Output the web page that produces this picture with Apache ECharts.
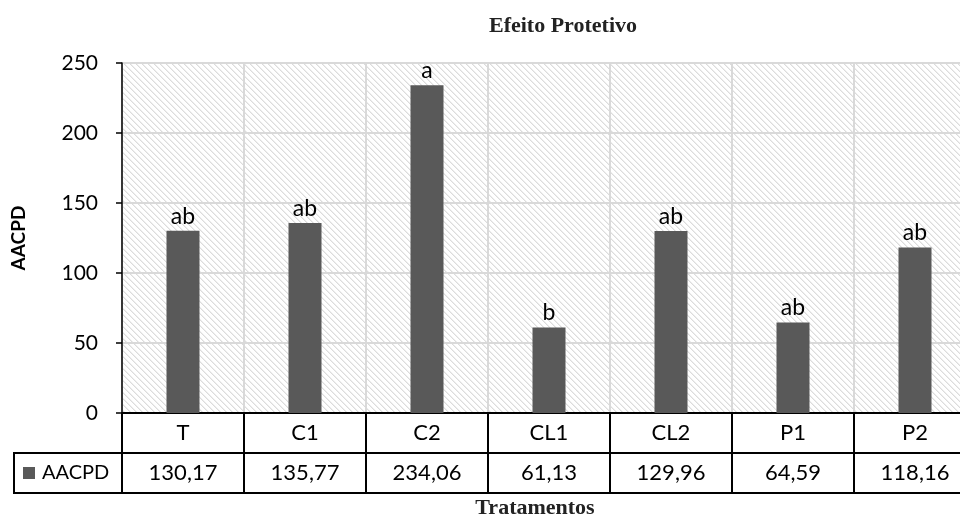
<!DOCTYPE html>
<html>
<head>
<meta charset="utf-8">
<script src="https://cdn.jsdelivr.net/npm/echarts@6/dist/echarts.min.js"></script>
<style>
html,body{margin:0;padding:0;background:#fff;overflow:hidden;width:960px;height:519px;}
#chart{width:976px;height:519px;}
</style>
</head>
<body>
<div id="chart"></div>
<script>
const categories = ['T', 'C1', 'C2', 'CL1', 'CL2', 'P1', 'P2'];
const values = [130.17, 135.77, 234.06, 61.13, 129.96, 64.59, 118.16];
const letters = ['ab', 'ab', 'a', 'b', 'ab', 'ab', 'ab'];
const yMin = 0, yMax = 250, yStep = 50;
const seriesName = 'AACPD';
const titleText = 'Efeito Protetivo';
const xTitle = 'Tratamentos';

const SANS = 'Lato, "DejaVu Sans", sans-serif';
const SERIF = '"Liberation Serif", "DejaVu Serif", serif';

// hatch pattern
const tile = document.createElement('canvas');
const T = 6;
tile.width = T; tile.height = T;
const tctx = tile.getContext('2d');
const img = tctx.createImageData(T, T);
for (let y = 0; y < T; y++) {
  for (let x = 0; x < T; x++) {
    const d = ((x - y) % T + T) % T;
    let c = 255;
    if (d === 0) c = 220; else if (d === 1) c = 238;
    const i = (y * T + x) * 4;
    img.data[i] = c; img.data[i+1] = c; img.data[i+2] = c; img.data[i+3] = 255;
  }
}
tctx.putImageData(img, 0, 0);

const G = {left: 122, top: 63, width: 854, height: 350};
const rowH = 40;

const chart = echarts.init(document.getElementById('chart'), null, {renderer: 'canvas', width: 976, height: 519});
const fmt = v => v.toFixed(2).replace('.', ',');

chart.setOption({
  animation: false,
  backgroundColor: '#fff',
  title: {
    text: titleText, left: 558, top: 10, textAlign: 'center',
    textStyle: {fontFamily: SERIF, fontWeight: 'bold', fontSize: 22, color: '#222'}
  },
  grid: {
    left: G.left, top: G.top, width: G.width, height: G.height,
    show: true, borderWidth: 0,
    backgroundColor: {image: tile, repeat: 'repeat'}
  },
  xAxis: [{
    type: 'category', data: categories, position: 'bottom',
    axisLine: {show: true, lineStyle: {color: '#000', width: 2}},
    axisTick: {show: true, inside: false, length: rowH * 2, lineStyle: {color: '#000', width: 2}},
    axisLabel: {margin: rowH / 2, verticalAlign: 'middle', fontFamily: SANS, fontSize: 22, color: '#000'},
    splitLine: {show: true, lineStyle: {color: '#d9d9d9', width: 2}}
  }, {
    type: 'category', data: values.map(fmt), position: 'bottom', offset: rowH,
    axisLine: {show: true, lineStyle: {color: '#000', width: 2}},
    axisTick: {show: false},
    axisLabel: {margin: rowH / 2, verticalAlign: 'middle', fontFamily: SANS, fontSize: 22, color: '#000'},
    splitLine: {show: false}
  }, {
    type: 'category', data: categories, position: 'bottom', offset: rowH * 2,
    axisLine: {show: true, lineStyle: {color: '#000', width: 2}},
    axisTick: {show: false}, axisLabel: {show: false}, splitLine: {show: false}
  }],
  yAxis: {
    type: 'value', min: yMin, max: yMax, interval: yStep,
    name: 'AACPD', nameLocation: 'middle', nameGap: 94, nameRotate: 90,
    nameTextStyle: {fontFamily: SANS, fontWeight: 'bold', fontSize: 19, color: '#000'},
    axisLine: {show: true, lineStyle: {color: '#000', width: 1.5}},
    axisTick: {show: true, inside: false, length: 6, lineStyle: {color: '#000', width: 1.5}},
    axisLabel: {margin: 24, fontFamily: SANS, fontSize: 21, color: '#000'},
    splitLine: {show: true, lineStyle: {color: '#d9d9d9', width: 2}}
  },
  series: [{
    name: seriesName, type: 'bar', data: values, xAxisIndex: 0,
    barWidth: 33,
    itemStyle: {color: '#595959'},
    label: {
      show: true, position: 'top', distance: 3,
      fontFamily: SANS, fontSize: 23, color: '#000',
      formatter: p => letters[p.dataIndex]
    }
  }],
  graphic: [
    {type: 'rect', shape: {x: 14, y: G.top + G.height + rowH, width: G.left - 14, height: rowH},
     style: {fill: 'none', stroke: '#000', lineWidth: 2}, z: 10},
    {type: 'rect', shape: {x: 23, y: G.top + G.height + rowH * 1.5 - 6, width: 12, height: 12},
     style: {fill: '#595959'}, z: 10},
    {type: 'text', x: 42, y: G.top + G.height + rowH * 1.5,
     style: {text: seriesName, fontFamily: SANS, fontSize: 20, fill: '#000', verticalAlign: 'middle'}, z: 10},
    {type: 'text', x: 535, y: 508,
     style: {text: xTitle, fontFamily: SERIF, fontWeight: 'bold', fontSize: 22, fill: '#222', align: 'center', verticalAlign: 'middle'}, z: 10}
  ]
});
</script>
</body>
</html>
